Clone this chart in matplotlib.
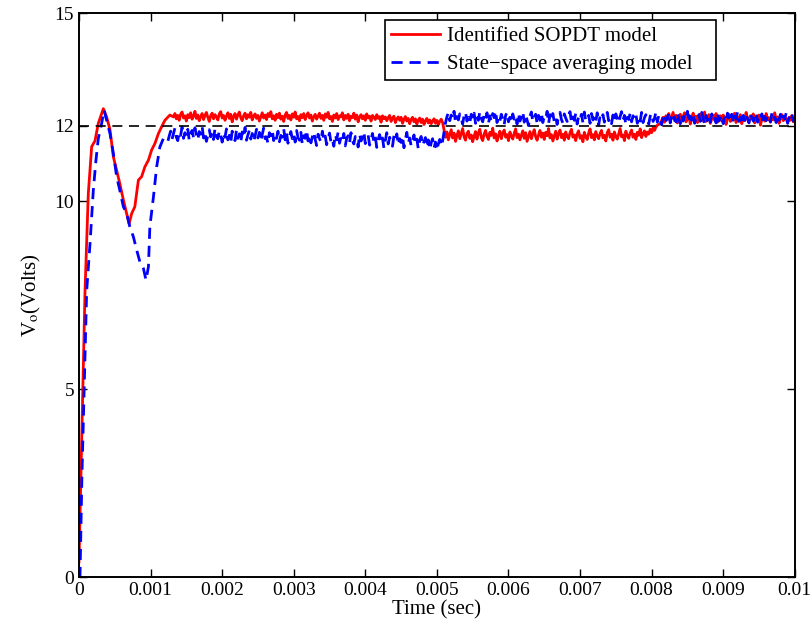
import numpy as np
import matplotlib
matplotlib.use('Agg')
import matplotlib.pyplot as plt

plt.rcParams['font.family'] = ['Liberation Serif', 'DejaVu Serif']
plt.rcParams['mathtext.fontset'] = 'stix'

V_REF = 12.0

# start-up transient of the identified SOPDT model
red_t0 = [0, 0.000084, 0.00013, 0.000177, 0.000223, 0.00027, 0.00034, 0.000386,
          0.000433, 0.00048, 0.000526, 0.00057, 0.00062, 0.000666, 0.0007,
          0.000736, 0.00078, 0.00083, 0.000875, 0.00092, 0.00097, 0.001015,
          0.00106, 0.00111, 0.001155, 0.0012, 0.00127]
red_v0 = [0.4, 7.6, 10.2, 11.45, 11.6, 12.07, 12.46, 12.24, 11.9, 11.18, 10.82,
          10.47, 10.03, 9.67, 9.4, 9.67, 9.85, 10.56, 10.65, 10.91, 11.09, 11.36,
          11.53, 11.8, 11.98, 12.15, 12.29]

# steady-state samples, every 20 us
red_v1 = [12.24, 12.33, 12.19, 12.28, 12.15, 12.31, 12.37, 12.21, 12.27, 12.13,
          12.30, 12.22, 12.35, 12.18, 12.26, 12.39, 12.20, 12.29, 12.14, 12.25,
          12.33, 12.17, 12.28, 12.36, 12.23, 12.12, 12.27, 12.34, 12.19, 12.30,
          12.24, 12.16, 12.32, 12.38, 12.21, 12.28, 12.15, 12.26, 12.35, 12.20,
          12.31, 12.11, 12.25, 12.33, 12.18, 12.29, 12.37, 12.22, 12.14, 12.27,
          12.34, 12.19, 12.30, 12.23, 12.36, 12.16, 12.26, 12.32, 12.20, 12.28,
          12.13, 12.24, 12.35, 12.21, 12.29, 12.17, 12.33, 12.25, 12.38, 12.19,
          12.27, 12.15, 12.31, 12.22, 12.34, 12.18, 12.26, 12.12, 12.29, 12.36,
          12.20, 12.28, 12.16, 12.32, 12.23, 12.37, 12.19, 12.25, 12.14, 12.30,
          12.22, 12.33, 12.17, 12.27, 12.35, 12.21, 12.29, 12.13, 12.24, 12.31,
          12.18, 12.26, 12.34, 12.20, 12.28, 12.15, 12.32, 12.23, 12.36, 12.19,
          12.25, 12.12, 12.29, 12.21, 12.33, 12.17, 12.27, 12.24, 12.35, 12.16,
          12.28, 12.20, 12.31, 12.14, 12.26, 12.22, 12.34, 12.18, 12.29, 12.11,
          12.24, 12.30, 12.19, 12.27, 12.15, 12.32, 12.21, 12.26, 12.13, 12.28,
          12.23, 12.17, 12.30, 12.20, 12.25, 12.10, 12.27, 12.19, 12.24, 12.14,
          12.22, 12.28, 12.12, 12.21, 12.26, 12.09, 12.19, 12.24, 12.15, 12.23,
          12.07, 12.18, 12.25, 12.13, 12.20, 12.06, 12.17, 12.23, 12.11, 12.19,
          12.05, 12.15, 12.21, 12.09, 12.18, 12.04, 12.14, 12.20, 12.08, 12.16,
          12.06, 12.13, 12.19, 12.07, 12.15, 12.03, 12.12, 12.18, 12.09]
red_v2 = [11.70, 11.84, 11.63, 11.77, 11.90, 11.68, 11.81, 11.59, 11.74, 11.87,
          11.66, 11.79, 11.93, 11.71, 11.62, 11.80, 11.86, 11.67, 11.76, 11.58,
          11.73, 11.85, 11.65, 11.82, 11.91, 11.69, 11.61, 11.78, 11.88, 11.72,
          11.64, 11.83, 11.75, 11.94, 11.68, 11.79, 11.60, 11.74, 11.86, 11.66,
          11.81, 11.89, 11.70, 11.77, 11.61, 11.84, 11.73, 11.65, 11.80, 11.92,
          11.69, 11.78, 11.63, 11.75, 11.87, 11.67, 11.82, 11.59, 11.72, 11.85,
          11.66, 11.79, 11.90, 11.71, 11.62, 11.76, 11.88, 11.70, 11.81, 11.64,
          11.83, 11.74, 11.93, 11.68, 11.77, 11.60, 11.73, 11.86, 11.65, 11.80,
          11.89, 11.69, 11.78, 11.62, 11.84, 11.72, 11.66, 11.82, 11.91, 11.70,
          11.76, 11.61, 11.79, 11.87, 11.67, 11.74, 11.58, 11.83, 11.71, 11.64,
          11.81, 11.92, 11.69, 11.77, 11.63, 11.85, 11.73, 11.66, 11.80, 11.88,
          11.68, 11.75, 11.60, 11.82, 11.90, 11.70, 11.78, 11.62, 11.84, 11.72,
          11.65, 11.79, 11.93, 11.71, 11.76, 11.61, 11.86, 11.74, 11.67, 11.81,
          11.89, 11.70, 11.78, 11.64, 11.83, 11.75, 11.92, 11.69, 11.80, 11.87,
          11.72, 11.84, 11.78, 11.91, 11.82, 11.95, 11.88, 11.97, 12.02]
red_v3 = [12.06, 12.15, 12.23, 12.10, 12.27, 12.18, 12.33, 12.12, 12.24, 12.36,
          12.14, 12.28, 12.08, 12.21, 12.31, 12.13, 12.25, 12.35, 12.11, 12.19,
          12.29, 12.05, 12.22, 12.34, 12.16, 12.26, 12.09, 12.20, 12.32, 12.14,
          12.24, 12.37, 12.12, 12.22, 12.30, 12.07, 12.18, 12.28, 12.15, 12.33,
          12.10, 12.21, 12.27, 12.13, 12.29, 12.17, 12.04, 12.20, 12.31, 12.12,
          12.25, 12.16, 12.34, 12.09, 12.23, 12.19, 12.30, 12.06, 12.26, 12.14,
          12.36, 12.18, 12.11, 12.27, 12.21, 12.32, 12.08, 12.24, 12.15, 12.29,
          12.02, 12.19, 12.26, 12.13, 12.33, 12.17, 12.22, 12.10, 12.28, 12.16,
          12.35, 12.12, 12.24, 12.07, 12.20, 12.30, 12.14, 12.25, 12.18, 12.09,
          12.23, 12.15, 12.28, 12.11, 12.19]

# start-up transient of the state-space averaging model
blue_t0 = [0, 0.000014, 0.00004, 0.000075, 0.000107, 0.000154, 0.0002, 0.000237,
           0.00027, 0.000317, 0.00035, 0.000386, 0.000433, 0.00048, 0.000526,
           0.00057, 0.00062, 0.000666, 0.00071, 0.00076, 0.000806, 0.00085,
           0.0009, 0.000936, 0.00097, 0.00099, 0.00104, 0.001085, 0.00113,
           0.00118]
blue_v0 = [0, 0, 2.6, 5.2, 7.6, 8.87, 10.29, 11.09, 11.67, 12.07, 12.42, 12.15,
           11.8, 11.27, 10.65, 10.29, 9.85, 9.67, 9.32, 9.05, 8.7, 8.39, 8.21,
           7.9, 8.25, 9.32, 10.11, 10.91, 11.44, 11.67]
blue_v1 = [11.58, 11.73, 11.86, 11.65, 11.80, 11.94, 11.70, 11.61, 11.84, 11.75,
           11.97, 11.67, 11.82, 11.72, 11.91, 11.62, 11.79, 11.88, 11.69, 11.95,
           11.76, 11.63, 11.85, 11.78, 11.99, 11.68, 11.81, 11.59, 11.74, 11.90,
           11.71, 11.83, 11.64, 11.93, 11.72, 11.66, 11.87, 11.77, 11.57, 11.81,
           11.70, 11.92, 11.63, 11.75, 11.55, 11.86, 11.72, 11.61, 11.89, 11.67,
           11.79, 11.56, 11.84, 11.69, 11.96, 11.62, 11.76, 11.88, 11.65, 11.80,
           11.59, 11.73, 11.91, 11.68, 11.83, 11.60, 11.77, 11.94, 11.66, 11.71,
           11.53, 11.82, 11.74, 11.90, 11.61, 11.78, 11.67, 11.86, 11.58, 11.75,
           11.70, 11.92, 11.63, 11.81, 11.54, 11.72, 11.85, 11.66, 11.79, 11.57,
           11.88, 11.69, 11.62, 11.83, 11.51, 11.74, 11.67, 11.89, 11.60, 11.76,
           11.55, 11.71, 11.84, 11.64, 11.48, 11.78, 11.66, 11.58, 11.86, 11.62,
           11.73, 11.50, 11.69, 11.81, 11.57, 11.65, 11.46, 11.77, 11.63, 11.84,
           11.54, 11.70, 11.59, 11.80, 11.47, 11.67, 11.74, 11.56, 11.82, 11.61,
           11.52, 11.72, 11.65, 11.44, 11.78, 11.60, 11.69, 11.85, 11.53, 11.66,
           11.75, 11.49, 11.63, 11.80, 11.57, 11.71, 11.43, 11.64, 11.77, 11.55,
           11.68, 11.41, 11.61, 11.82, 11.52, 11.70, 11.58, 11.46, 11.74, 11.62,
           11.79, 11.50, 11.66, 11.56, 11.73, 11.42, 11.64, 11.83, 11.54, 11.68,
           11.47, 11.60, 11.76, 11.51, 11.65, 11.39, 11.62, 11.72, 11.48, 11.58,
           11.69, 11.44, 11.63, 11.37, 11.55, 11.66, 11.41, 11.57, 11.35, 11.52,
           11.64, 11.46, 11.60]
blue_v2 = [12.08, 12.24, 12.36, 12.14, 12.29, 12.19, 12.39, 12.10, 12.25, 12.16,
           12.32, 12.21, 12.05, 12.28, 12.37, 12.13, 12.23, 12.09, 12.31, 12.18,
           12.34, 12.07, 12.26, 12.15, 12.38, 12.20, 12.11, 12.29, 12.17, 12.35,
           12.06, 12.27, 12.12, 12.33, 12.22, 12.40, 12.09, 12.25, 12.14, 12.31,
           12.19, 12.03, 12.28, 12.36, 12.11, 12.23, 12.08, 12.32, 12.18, 12.27,
           12.05, 12.34, 12.13, 12.24, 12.38, 12.10, 12.29, 12.16, 12.01, 12.26,
           12.37, 12.12, 12.22, 12.31, 12.07, 12.28, 12.15, 12.35, 12.09, 12.25,
           12.20, 12.39, 12.06, 12.30, 12.14, 12.33, 12.11, 12.23, 12.04, 12.27,
           12.36, 12.17, 12.08, 12.32, 12.21, 12.12, 12.29, 12.38, 12.10, 12.24,
           12.15, 12.34, 12.05, 12.26, 12.18, 12.31, 12.09, 12.37, 12.13, 12.22,
           12.28, 12.07, 12.33, 12.16, 12.25, 12.11, 12.35, 12.02, 12.27, 12.19,
           12.30, 12.10, 12.23, 12.36, 12.14, 12.21, 12.06, 12.29, 12.12, 12.32,
           12.20, 12.08, 12.25, 12.38, 12.15, 12.28, 12.04, 12.23, 12.17, 12.34,
           12.11, 12.27, 12.19, 12.31, 12.07, 12.24, 12.13, 12.36, 12.09, 12.22,
           12.30, 12.16, 12.05, 12.26, 12.33, 12.12, 12.20, 12.37, 12.10, 12.28,
           12.18, 12.03, 12.25, 12.32, 12.14, 12.21, 12.35, 12.08, 12.29, 12.16,
           12.24, 12.11, 12.34, 12.19, 12.06, 12.27, 12.13, 12.31, 12.22, 12.39,
           12.09, 12.26, 12.15, 12.33, 12.07, 12.23, 12.18, 12.30, 12.12, 12.36,
           12.20, 12.05, 12.28, 12.14, 12.25, 12.10, 12.32, 12.17, 12.24, 12.08,
           12.35, 12.13, 12.21, 12.29, 12.06, 12.27, 12.16, 12.34, 12.11, 12.22,
           12.31, 12.09, 12.26, 12.18, 12.37, 12.12, 12.23, 12.04, 12.28, 12.15,
           12.30, 12.19, 12.08, 12.33, 12.21, 12.13, 12.27, 12.36, 12.10, 12.24,
           12.17, 12.32, 12.06, 12.25, 12.14, 12.29, 12.20, 12.11, 12.34, 12.18,
           12.23, 12.09, 12.28, 12.15, 12.31, 12.12, 12.26, 12.19, 12.35, 12.07,
           12.22, 12.16, 12.30, 12.13, 12.21]

xticks = [0, 0.001, 0.002, 0.003, 0.004, 0.005, 0.006, 0.007, 0.008, 0.009, 0.01]
xlabels = ['0', '0.001', '0.002', '0.003', '0.004', '0.005', '0.006', '0.007',
           '0.008', '0.009', '0.01']
yticks = [0, 5, 10, 12, 15]

dt = 0.00002


def samples(t_start, values):
    return t_start + dt * np.arange(len(values))


red_t = np.concatenate([red_t0, samples(0.00132, red_v1),
                        samples(0.00512, red_v2), samples(0.00812, red_v3)])
red_v = np.concatenate([red_v0, red_v1, red_v2, red_v3])
blue_t = np.concatenate([blue_t0, samples(0.00124, blue_v1),
                         samples(0.00512, blue_v2)])
blue_v = np.concatenate([blue_v0, blue_v1, blue_v2])

fig = plt.figure(figsize=(8.11, 6.27), dpi=100)
ax = fig.add_axes([0.0974, 0.0797, 0.8826, 0.8993])

ax.plot(red_t, red_v, '-', color='red', lw=2, label='Identified SOPDT model')
ax.plot(blue_t, blue_v, '--', color='blue', lw=2, dashes=(4, 2.5),
        label='State\u2212space averaging model')
ax.plot([0, 0.01], [V_REF, V_REF], '--', color='black', lw=1.2, dashes=(6, 4))

ax.set_xlim(0, 0.01)
ax.set_ylim(0, 15)
ax.set_xticks(xticks)
ax.set_xticklabels(xlabels)
ax.set_yticks(yticks)
ax.tick_params(direction='in', top=True, right=True, labelsize=14, length=6,
               width=1.0)
for s in ax.spines.values():
    s.set_linewidth(1.4)

ax.set_xlabel('Time (sec)', fontsize=15, labelpad=1)
ax.set_ylabel(r'V$_\mathrm{o}$(Volts)', fontsize=15, labelpad=8)

# legend box stretched to a fixed width, text left-aligned inside
leg = ax.legend(loc='upper left', bbox_to_anchor=(0.4274, 0.5, 0.4623, 0.4878),
                mode='expand', borderaxespad=0, fontsize=15, fancybox=False,
                edgecolor='black', framealpha=1, handlelength=2.35,
                handletextpad=0.35, borderpad=0.3, labelspacing=0.4)
leg.get_frame().set_linewidth(1.2)

fig.savefig('out.png', dpi=100)
